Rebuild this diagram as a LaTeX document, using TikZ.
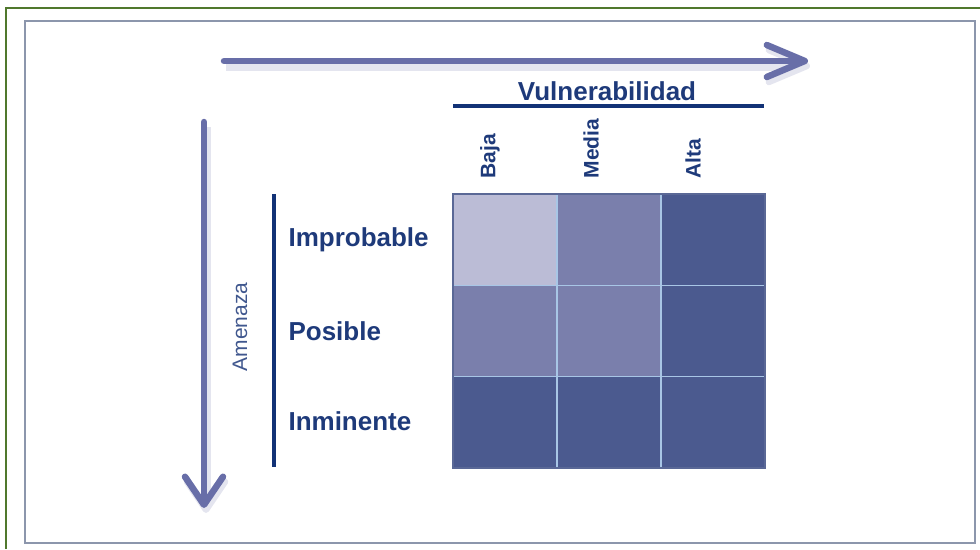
\documentclass[tikz,border=0pt]{standalone}
\usepackage{fontspec}
\setmainfont{Liberation Sans}
\usetikzlibrary{arrows.meta}

\definecolor{textblue}{RGB}{30,58,122}
\definecolor{barblue}{RGB}{18,50,118}
\definecolor{arrowblue}{RGB}{104,110,168}
\definecolor{lowcell}{RGB}{187,188,214}
\definecolor{midcell}{RGB}{122,127,172}
\definecolor{highcell}{RGB}{75,90,143}
\definecolor{cellline}{RGB}{168,198,230}
\definecolor{gridline}{RGB}{90,104,150}
\definecolor{framegreen}{RGB}{80,120,45}
\definecolor{framegray}{RGB}{140,150,172}

\begin{document}
\begin{tikzpicture}[x=1pt, y=-1pt,
    cell/.style = {draw=cellline, line width=1.5pt, minimum width=104pt, minimum height=91.3pt, inner sep=0pt},
    axisarrow/.style = {draw=arrowblue, line width=6.5pt, line cap=round,
        preaction={draw=arrowblue!18, line width=10pt, transform canvas={shift={(2pt,-5pt)}}}},
    rowlabel/.style = {anchor=west, text=textblue, font=\bfseries\fontsize{26}{30}\selectfont},
    collabel/.style = {anchor=west, rotate=90, text=textblue, font=\bfseries\fontsize{21}{24}\selectfont},
    bar/.style = {draw=barblue, line width=4pt}]
    \useasboundingbox (0,0) rectangle (980,549);

    % frames
    \draw[framegreen, line width=2pt] (6,549) -- (6,8) -- (980,8);
    \draw[framegray, line width=2pt] (25,21) rectangle (975,543);

    % axes
    \coordinate (hstart) at (224,61);
    \coordinate (hend) at (808,61);
    \coordinate (vstart) at (204,122);
    \coordinate (vend) at (204,508);
    \draw[axisarrow, -{Straight Barb[length=38pt, width=32pt, line width=6.5pt, round]}] (hstart) -- (hend);
    \draw[axisarrow, -{Straight Barb[length=28pt, width=38pt, line width=6.5pt, round]}] (vstart) -- (vend);

    % matrix cells
    \foreach \c/\x in {1/505, 2/609, 3/713} {
        \foreach \r/\y in {1/239.7, 2/331, 3/422.3} {
            \node[cell, fill=highcell] (c\r\c) at (\x,\y) {};
        }
    }
    \node[cell, fill=lowcell] at (c11) {};
    \node[cell, fill=midcell] at (c12) {};
    \node[cell, fill=midcell] at (c21) {};
    \node[cell, fill=midcell] at (c22) {};
    \draw[gridline, line width=1.2pt] (453,194) rectangle (765,468);

    % vulnerability header
    \node[text=textblue, font=\bfseries\fontsize{26}{30}\selectfont] (vuln) at (607,91) {Vulnerabilidad};
    \coordinate (ulleft) at (453,106);
    \coordinate (ulright) at (764,106);
    \draw[bar] (ulleft) -- (ulright);
    \node[collabel] (baja) at (490,182) {Baja};
    \node[collabel] (media) at (591,182) {Media};
    \node[collabel] (alta) at (693,182) {Alta};

    % threat side
    \coordinate (bartop) at (274,194);
    \coordinate (barbot) at (274,467);
    \draw[bar] (bartop) -- (barbot);
    \node[rotate=90, text=textblue!85, font=\fontsize{21}{24}\selectfont] (amenaza) at (240,327) {Amenaza};
    \node[rowlabel] (improbable) at (285,240) {Improbable};
    \node[rowlabel] (posible) at (285,331) {Posible};
    \node[rowlabel] (inminente) at (285,421) {Inminente};
\end{tikzpicture}
\end{document}
